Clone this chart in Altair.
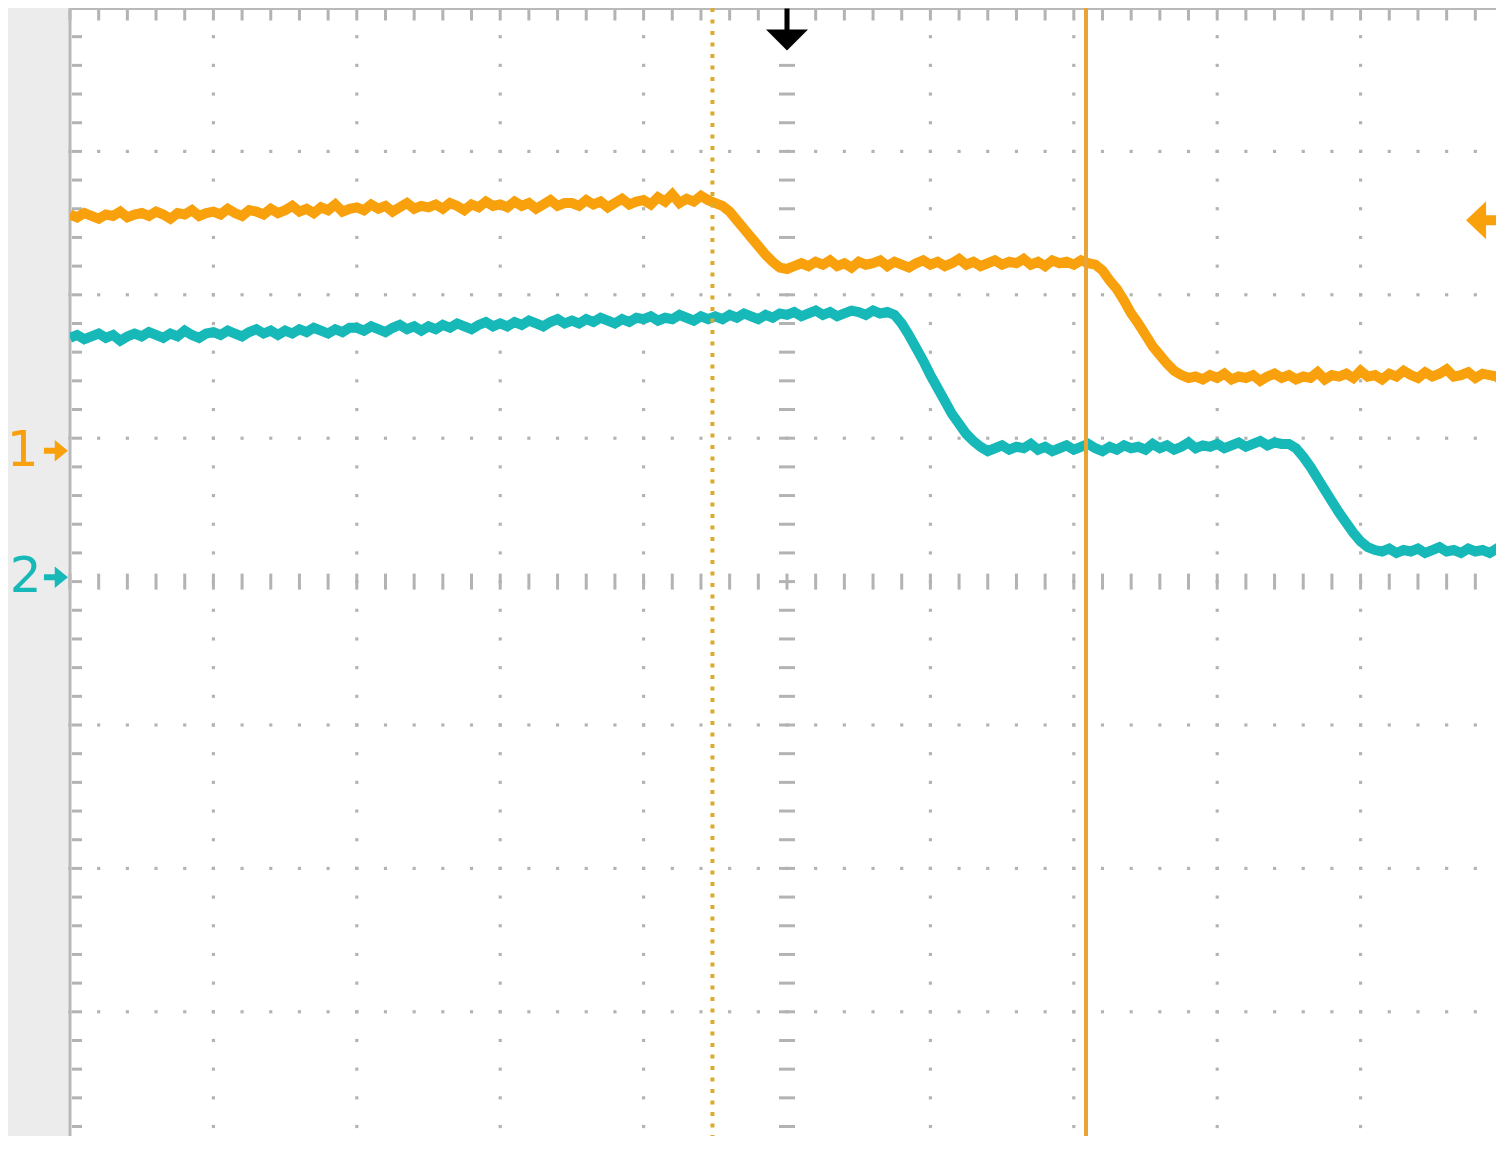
import altair as alt
import pandas as pd

# ---------------- data (screen divisions: x 0..10, y -4..4) ----------------
sample_step = 0.05  # horizontal sampling of the stored traces, in divisions

ch1_values = [
    2.56, 2.54, 2.57, 2.55, 2.53, 2.56, 2.55, 2.58, 2.54, 2.56,
    2.57, 2.55, 2.58, 2.56, 2.53, 2.57, 2.56, 2.59, 2.55, 2.57,
    2.58, 2.56, 2.60, 2.57, 2.55, 2.59, 2.58, 2.56, 2.60, 2.57,
    2.59, 2.62, 2.58, 2.60, 2.57, 2.61, 2.59, 2.63, 2.58, 2.60,
    2.61, 2.59, 2.63, 2.60, 2.62, 2.58, 2.61, 2.64, 2.60, 2.62,
    2.61, 2.63, 2.60, 2.64, 2.62, 2.59, 2.63, 2.61, 2.65, 2.62,
    2.63, 2.61, 2.65, 2.62, 2.64, 2.60, 2.63, 2.66, 2.62, 2.64,
    2.64, 2.62, 2.66, 2.63, 2.65, 2.61, 2.64, 2.67, 2.63, 2.65,
    2.66, 2.63, 2.68, 2.65, 2.70, 2.64, 2.67, 2.65, 2.69, 2.66,
    2.64, 2.62, 2.58, 2.52, 2.46, 2.40, 2.34, 2.28, 2.23, 2.19, 2.18, 2.20,
    2.22, 2.20, 2.23, 2.21, 2.24, 2.20, 2.22, 2.19, 2.23, 2.21,
    2.22, 2.24, 2.20, 2.23, 2.21, 2.19, 2.22, 2.24, 2.21, 2.23,
    2.20, 2.22, 2.25, 2.21, 2.23, 2.20, 2.22, 2.24, 2.21, 2.23,
    2.22, 2.25, 2.21, 2.23, 2.20, 2.24, 2.22, 2.23, 2.21, 2.24, 2.22,
    2.21, 2.17, 2.10, 2.04, 1.96, 1.87, 1.80, 1.72, 1.64, 1.58, 1.52, 1.47, 1.44, 1.42,
    1.43, 1.41, 1.44, 1.42, 1.45, 1.41, 1.43, 1.42, 1.44, 1.40,
    1.43, 1.45, 1.42, 1.44, 1.41, 1.43, 1.42, 1.46, 1.41, 1.44,
    1.43, 1.45, 1.42, 1.47, 1.43, 1.44, 1.41, 1.45, 1.43, 1.47,
    1.44, 1.42, 1.46, 1.43, 1.45, 1.48, 1.43, 1.44, 1.46, 1.42,
    1.45, 1.44, 1.43, 1.38,
]

ch2_values = [
    1.70, 1.72, 1.69, 1.71, 1.73, 1.70, 1.72, 1.68, 1.71, 1.73,
    1.71, 1.74, 1.72, 1.70, 1.73, 1.71, 1.75, 1.72, 1.70, 1.73,
    1.74, 1.72, 1.75, 1.73, 1.71, 1.74, 1.76, 1.73, 1.75, 1.72,
    1.75, 1.73, 1.76, 1.74, 1.77, 1.75, 1.73, 1.76, 1.74, 1.77,
    1.77, 1.75, 1.78, 1.76, 1.74, 1.77, 1.79, 1.76, 1.78, 1.75,
    1.78, 1.76, 1.79, 1.77, 1.80, 1.78, 1.76, 1.79, 1.81, 1.78,
    1.80, 1.78, 1.81, 1.79, 1.82, 1.80, 1.78, 1.81, 1.83, 1.80,
    1.82, 1.80, 1.83, 1.81, 1.84, 1.82, 1.80, 1.83, 1.81, 1.84,
    1.83, 1.85, 1.82, 1.84, 1.83, 1.86, 1.84, 1.82, 1.85, 1.83,
    1.85, 1.83, 1.86, 1.84, 1.87, 1.85, 1.83, 1.86, 1.84, 1.87,
    1.86, 1.88, 1.85, 1.87, 1.89, 1.86, 1.88, 1.85, 1.87, 1.89,
    1.88, 1.86, 1.89, 1.87, 1.88,
    1.86, 1.80, 1.72, 1.63, 1.54, 1.44, 1.35, 1.26, 1.17, 1.10, 1.03, 0.98, 0.94, 0.91,
    0.93, 0.95, 0.92, 0.94, 0.93, 0.96, 0.92, 0.94, 0.91, 0.93,
    0.95, 0.92, 0.94, 0.96, 0.93, 0.91, 0.94, 0.92, 0.95, 0.93,
    0.94, 0.92, 0.96, 0.93, 0.95, 0.92, 0.94, 0.97, 0.93, 0.95,
    0.94, 0.96, 0.93, 0.95, 0.97, 0.94, 0.96, 0.98, 0.95, 0.97, 0.96,
    0.96, 0.93, 0.87, 0.80, 0.72, 0.64, 0.56, 0.48, 0.41, 0.34, 0.28, 0.24, 0.22,
    0.21, 0.23, 0.20, 0.22, 0.21, 0.23, 0.20, 0.22, 0.24, 0.21,
    0.22, 0.20, 0.23, 0.21, 0.22, 0.20, 0.23, 0.22,
]

cursor_dotted_x = [4.48]
cursor_solid_x = [7.085]
trigger_pos_x = [5.0]
trigger_pos_y = [3.85]
trigger_level_x = [9.875]
trigger_level_y = [2.52]
channel_labels = ["1", "2"]
channel_label_x = [-0.33, -0.31]
channel_ground_x = [-0.098, -0.098]
channel_ground_y = [0.913, 0.03]

H_DIV, V_DIV, SUB = 10, 8, 5
major_x_lines = [1, 2, 3, 4, 6, 7, 8, 9]
major_y_lines = [-3, -2, -1, 1, 2, 3]

# ---------------- styles ----------------
ORANGE = "#f8a10c"
TEAL = "#17b8b8"
GRID = "#b3b3b3"
BORDER = "#b9b9b9"
DIV_PX = 143.4
PLOT_W = 1426                    # screen is cut off at the right of the window
PLOT_H = 1128                    # ...and at the bottom
X_RIGHT = PLOT_W / DIV_PX
Y_BOTTOM = V_DIV / 2 - PLOT_H / DIV_PX

xs = alt.Scale(domain=[0, X_RIGHT], nice=False, zero=False)
ys = alt.Scale(domain=[Y_BOTTOM, V_DIV / 2], nice=False, zero=False)


def X(f):
    return alt.X(f, type="quantitative", scale=xs, axis=None)


def Y(f):
    return alt.Y(f, type="quantitative", scale=ys, axis=None)


minor_x = [k / SUB for k in range(H_DIV * SUB + 1)]
minor_x = [v for v in minor_x if v <= X_RIGHT]
minor_y = [-V_DIV / 2 + k / SUB for k in range(V_DIV * SUB + 1)]
minor_y = [v for v in minor_y if v >= Y_BOTTOM]

dots = pd.DataFrame(
    [{"x": gx, "y": my} for gx in major_x_lines for my in minor_y]
    + [{"x": mx, "y": gy} for gy in major_y_lines for mx in minor_x]
)
grid_dots = alt.Chart(dots).mark_square(size=10, color=GRID, opacity=1).encode(x=X("x"), y=Y("y"))

vcol = pd.DataFrame({"y": minor_y})
hrow = pd.DataFrame({"x": minor_x})

center_v = alt.Chart(vcol).mark_tick(orient="horizontal", size=16, thickness=3, color=GRID, opacity=1).encode(
    x=alt.X("c:Q", scale=xs, axis=None), y=Y("y")
).transform_calculate(c=str(H_DIV / 2))
center_h = alt.Chart(hrow).mark_tick(orient="vertical", size=16, thickness=3, color=GRID, opacity=1).encode(
    x=X("x"), y=alt.Y("c:Q", scale=ys, axis=None)
).transform_calculate(c="0")
left_edge = alt.Chart(vcol).mark_tick(orient="horizontal", size=10, thickness=3, color=GRID, opacity=1, xOffset=7).encode(
    x=alt.X("c:Q", scale=xs, axis=None), y=Y("y")
).transform_calculate(c="0")
top_edge = alt.Chart(hrow).mark_tick(orient="vertical", size=11, thickness=3, color=GRID, opacity=1, yOffset=7).encode(
    x=X("x"), y=alt.Y("c:Q", scale=ys, axis=None)
).transform_calculate(c=str(V_DIV / 2))

# screen frame: left and top edges (right and bottom lie outside the window)
left_border = alt.Chart(pd.DataFrame({"x": [0]})).mark_rule(color=BORDER, strokeWidth=3).encode(x=X("x"))
top_border = alt.Chart(pd.DataFrame({"y": [V_DIV / 2]})).mark_rule(color=BORDER, strokeWidth=4).encode(y=Y("y"))

ch1 = pd.DataFrame({"t": [round(i * sample_step, 3) for i in range(len(ch1_values))], "v": ch1_values})
ch2 = pd.DataFrame({"t": [round(i * sample_step, 3) for i in range(len(ch2_values))], "v": ch2_values})

trace1 = alt.Chart(ch1).mark_line(color=ORANGE, strokeWidth=10, clip=True).encode(x=X("t"), y=Y("v"))
trace2 = alt.Chart(ch2).mark_line(color=TEAL, strokeWidth=10, clip=True).encode(x=X("t"), y=Y("v"))

cur_dot = alt.Chart(pd.DataFrame({"x": cursor_dotted_x})).mark_rule(
    color="#dcaa2c", strokeWidth=4, strokeDash=[4, 7.5]
).encode(x=X("x"))
cur_sol = alt.Chart(pd.DataFrame({"x": cursor_solid_x})).mark_rule(
    color="#e8a434", strokeWidth=4
).encode(x=X("x"))

down_arrow = "M-0.12,-1 L0.12,-1 L0.12,0 L1,0 L0,1 L-1,0 L-0.12,0 Z"
left_arrow = "M-1,0 L0,-0.95 L0,-0.25 L1,-0.25 L1,0.25 L0,0.25 L0,0.95 Z"
right_arrow = "M1,0 L-0.1,-0.9 L-0.1,-0.25 L-1,-0.25 L-1,0.25 L-0.1,0.25 L-0.1,0.9 Z"

trig = alt.Chart(pd.DataFrame({"x": trigger_pos_x, "y": trigger_pos_y})).mark_point(
    shape=down_arrow, size=42 * 42, filled=True, color="#000000", opacity=1, strokeWidth=0
).encode(x=X("x"), y=Y("y"))

trig_level = alt.Chart(pd.DataFrame({"x": trigger_level_x, "y": trigger_level_y})).mark_point(
    shape=left_arrow, size=40 * 40, filled=True, color=ORANGE, opacity=1, strokeWidth=0
).encode(x=X("x"), y=Y("y"))

gdf = pd.DataFrame({
    "label": channel_labels,
    "lx": channel_label_x,
    "ax": channel_ground_x,
    "y": channel_ground_y,
    "col": [ORANGE, TEAL],
})
ground_text = alt.Chart(gdf).mark_text(
    fontSize=50, font="DejaVu Sans", align="center", baseline="middle"
).encode(x=X("lx"), y=Y("y"), text="label:N", color=alt.Color("col:N", scale=None))
ground_arrow = alt.Chart(gdf).mark_point(
    shape=right_arrow, size=24 * 24, filled=True, opacity=1, strokeWidth=0
).encode(x=X("ax"), y=Y("y"), color=alt.Color("col:N", scale=None))

chart = alt.layer(
    grid_dots, center_v, center_h, left_edge, top_edge, left_border, top_border,
    trace2, trace1, cur_dot, cur_sol, trig, trig_level, ground_text, ground_arrow,
).properties(
    width=PLOT_W,
    height=PLOT_H,
    autosize=alt.AutoSizeParams(type="none"),
    padding={"left": 62, "top": 0, "right": 0, "bottom": 0},
    background="#ececec",
).configure_view(fill="white", stroke=None)

chart.save("out.html", embed_options={"renderer": "svg", "actions": False})
